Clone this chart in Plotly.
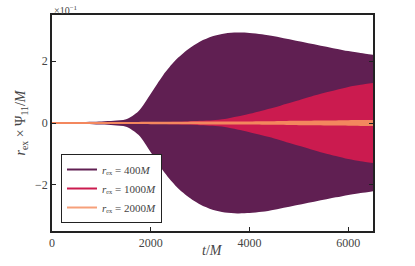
import plotly.graph_objects as go

# envelope half-widths of the oscillating signal, in units of 1e-1
t_vals = [0, 500, 1000, 1250, 1500, 1750, 2000, 2250, 2500, 2750, 3000, 3250, 3500,
          3750, 4000, 4250, 4500, 4750, 5000, 5250, 5500, 5750, 6000, 6250, 6500]
amp_400 = [0.03, 0.03, 0.05, 0.07, 0.12, 0.38, 0.95, 1.55, 2.03, 2.38, 2.64, 2.81, 2.90,
           2.93, 2.92, 2.88, 2.81, 2.73, 2.65, 2.57, 2.49, 2.41, 2.33, 2.27, 2.21]
amp_1000 = [0.0, 0.0, 0.01, 0.01, 0.01, 0.02, 0.02, 0.03, 0.04, 0.05, 0.07, 0.09, 0.13,
            0.21, 0.30, 0.40, 0.50, 0.62, 0.74, 0.86, 0.97, 1.07, 1.17, 1.24, 1.30]
amp_2000 = [0.035, 0.035, 0.035, 0.035, 0.035, 0.035, 0.04, 0.04, 0.04, 0.042, 0.045, 0.047, 0.05,
            0.05, 0.05, 0.055, 0.06, 0.065, 0.07, 0.075, 0.08, 0.085, 0.09, 0.095, 0.10]

labels = ["<i>r</i>\u2091\u2093 = 400<i>M</i>",
          "<i>r</i>\u2091\u2093 = 1000<i>M</i>",
          "<i>r</i>\u2091\u2093 = 2000<i>M</i>"]
fill_colors = ["#601f52", "#cb1b4f", "#f3875e"]
legend_colors = ["#601f52", "#cb1b4f", "#f6a07a"]

x_ticks = [0, 2000, 4000, 6000]
y_ticks = [-2, 0, 2]
y_ticktext = ["\u22122", "0", "2"]

FONT = "Liberation Serif, Times New Roman, serif"

fig = go.Figure()
for amp, color in zip([amp_400, amp_1000, amp_2000], fill_colors):
    # lower envelope, then upper envelope filled down to it
    fig.add_trace(go.Scatter(
        x=t_vals, y=[-a for a in amp], mode="lines",
        line=dict(width=0, color=color, shape="spline", smoothing=0.8),
        showlegend=False, hoverinfo="skip",
    ))
    fig.add_trace(go.Scatter(
        x=t_vals, y=amp, mode="lines", fill="tonexty", fillcolor=color,
        line=dict(width=0, color=color, shape="spline", smoothing=0.8),
        showlegend=False, hoverinfo="skip",
    ))

# legend-only line entries
for label, color in zip(labels, legend_colors):
    fig.add_trace(go.Scatter(
        x=[None], y=[None], mode="lines", name=label,
        line=dict(color=color, width=2),
    ))

fig.update_layout(
    width=415, height=266,
    margin=dict(l=52, r=42, t=15, b=35),
    paper_bgcolor="white",
    plot_bgcolor="white",
    font=dict(family=FONT, size=12, color="#444"),
    showlegend=True,
    legend=dict(
        x=0.028, y=0.037, xanchor="left", yanchor="bottom",
        bordercolor="#222", borderwidth=1, bgcolor="white",
        font=dict(size=11, color="#444"),
        itemwidth=30, tracegroupgap=0, traceorder="normal",
    ),
    xaxis=dict(
        range=[0, 6500], tickvals=x_ticks, ticks="inside", ticklen=4,
        tickcolor="#222", showline=True, linecolor="#222", linewidth=1.5,
        mirror=True, showgrid=False, zeroline=False, automargin=False,
    ),
    yaxis=dict(
        range=[-3.5, 3.5], tickvals=y_ticks, ticktext=y_ticktext, ticks="inside", ticklen=4,
        tickcolor="#222", showline=True, linecolor="#222", linewidth=1.5,
        mirror="ticks", showgrid=False, zeroline=False, automargin=False,
        title=dict(text="<i>r</i><sub>ex</sub> \u00d7 \u03a8<sub>11</sub>/<i>M</i>",
                   font=dict(size=14, color="#444"), standoff=6),
    ),
    annotations=[
        dict(text="\u00d710<sup>\u22121</sup>", xref="paper", yref="paper",
             x=0, y=1.0, xanchor="left", yanchor="bottom", yshift=-3, showarrow=False,
             font=dict(size=10, color="#444")),
        dict(text="<i>t</i>/<i>M</i>", xref="paper", yref="paper",
             x=0.5, y=-0.088, xanchor="center", yanchor="middle", showarrow=False,
             font=dict(size=14, color="#444")),
    ],
)

fig.write_html("out.html", config={"displayModeBar": False},
               post_script="document.body.style.margin='0';")
